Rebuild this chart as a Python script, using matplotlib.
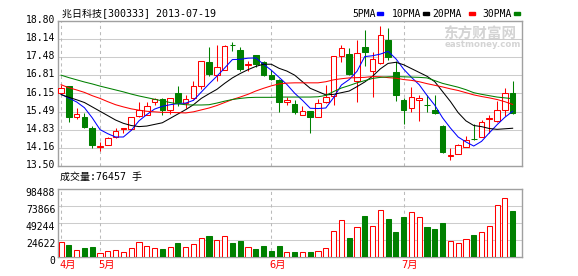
import numpy as np
import matplotlib
matplotlib.use("Agg")
import matplotlib.pyplot as plt
import matplotlib.transforms as mtransforms

plt.rcParams['font.family'] = ['DejaVu Sans Mono', 'Noto Sans CJK SC']

# daily bars, 2013-04 .. 2013-07-19
opens = [16.18, 16.41, 15.30, 15.29, 14.89, 14.21, 14.28, 14.56, 14.84, 14.85,
         15.34, 15.38, 15.84, 15.95, 15.54, 16.17, 15.80, 15.98, 16.41, 17.30,
         16.81, 17.02, 17.94, 17.73, 17.18, 17.55, 17.30, 16.83, 16.63, 15.83,
         15.77, 15.38, 15.50, 15.30, 15.83, 16.05, 17.51, 17.61, 16.59, 17.85,
         16.96, 17.27, 18.09, 16.95, 15.93, 15.62, 15.91, 15.74, 15.54, 14.98,
         13.87, 13.95, 14.20, 14.50, 14.56, 15.22, 15.13, 15.55, 16.16]
highs = [16.47, 16.43, 15.61, 15.43, 14.98, 14.38, 14.57, 14.88, 14.90, 15.29,
         15.83, 15.85, 15.99, 15.99, 15.98, 16.43, 16.10, 16.62, 17.35, 17.85,
         17.91, 17.94, 18.03, 17.84, 17.33, 17.57, 17.35, 17.00, 16.69, 16.01,
         15.91, 15.68, 15.51, 15.95, 16.46, 17.52, 17.94, 17.81, 18.11, 18.47,
         17.67, 18.61, 18.53, 17.33, 16.00, 16.38, 16.08, 16.11, 16.11, 14.99,
         14.16, 14.31, 14.61, 15.04, 15.18, 15.38, 15.86, 16.36, 16.62]
lows = [16.16, 15.12, 15.23, 14.89, 14.17, 14.04, 14.25, 14.52, 14.71, 14.83,
        15.29, 15.35, 15.72, 15.35, 15.40, 15.70, 15.63, 15.95, 16.33, 16.78,
        16.62, 17.00, 17.69, 16.99, 16.99, 17.11, 16.80, 16.66, 15.49, 15.74,
        15.41, 15.37, 14.71, 15.28, 15.79, 15.72, 17.29, 16.84, 15.83, 17.14,
        16.04, 17.24, 17.39, 15.87, 15.03, 15.46, 15.13, 15.46, 15.41, 13.99,
        13.71, 13.93, 14.18, 14.45, 14.55, 14.71, 15.11, 15.32, 15.39]
closes = [16.35, 15.30, 15.41, 14.91, 14.25, 14.23, 14.52, 14.79, 14.89, 15.28,
          15.54, 15.68, 15.94, 15.56, 15.97, 15.85, 15.95, 16.41, 17.33, 16.88,
          17.11, 17.87, 17.91, 17.06, 17.24, 17.24, 16.83, 16.68, 15.83, 15.91,
          15.46, 15.50, 15.30, 15.79, 16.01, 17.51, 17.80, 16.86, 17.63, 17.68,
          17.40, 18.28, 17.47, 16.11, 15.54, 16.04, 15.97, 15.72, 15.43, 14.01,
          13.92, 14.27, 14.44, 14.48, 15.12, 15.26, 15.54, 16.18, 15.44]
volumes = [21250, 17900, 10600, 13500, 15000, 6300, 9200, 10600, 7700, 13000,
           21700, 16400, 13000, 12000, 14500, 20800, 14500, 18800, 27500, 30900,
           24600, 30400, 20800, 23700, 14500, 12000, 16400, 9200, 16400, 7700,
           7700, 7200, 7700, 8700, 13000, 37700, 53600, 28000, 43500, 59900,
           44900, 68100, 55500, 36700, 58400, 65200, 58000, 44000, 41000, 49700,
           23200, 20300, 26100, 32400, 36200, 44900, 75300, 85500, 67100]

ma5 = [16.12, 15.98, 15.84, 15.63, 15.26, 14.83, 14.68, 14.56, 14.56, 14.80,
       15.15, 15.38, 15.58, 15.68, 15.74, 15.78, 15.80, 15.90, 16.20, 16.50,
       16.78, 17.08, 17.39, 17.40, 17.44, 17.45, 17.22, 17.00, 16.74, 16.48,
       16.16, 15.90, 15.61, 15.60, 15.62, 16.00, 16.46, 16.66, 16.96, 17.50,
       17.53, 17.59, 17.69, 17.42, 17.04, 16.74, 16.47, 16.08, 15.72, 15.26,
       14.89, 14.56, 14.38, 14.23, 14.40, 14.71, 15.01, 15.28, 15.50]
ma10 = [16.11, 16.01, 15.92, 15.82, 15.66, 15.50, 15.34, 15.18, 15.06, 14.98,
        14.94, 14.96, 15.02, 15.08, 15.24, 15.40, 15.56, 15.74, 15.97, 16.14,
        16.30, 16.52, 16.72, 16.88, 17.02, 17.14, 17.22, 17.22, 17.07, 16.97,
        16.82, 16.58, 16.34, 16.22, 16.10, 16.12, 16.18, 16.24, 16.40, 16.57,
        16.78, 17.05, 17.25, 17.29, 17.20, 17.06, 16.92, 16.78, 16.58, 16.22,
        15.86, 15.45, 15.15, 14.98, 14.94, 14.87, 14.84, 14.86, 14.88]
ma20 = [16.47, 16.36, 16.28, 16.19, 16.07, 15.97, 15.85, 15.74, 15.66, 15.59,
        15.54, 15.50, 15.48, 15.46, 15.46, 15.45, 15.44, 15.48, 15.55, 15.62,
        15.71, 15.82, 15.93, 16.02, 16.12, 16.24, 16.34, 16.43, 16.50, 16.53,
        16.54, 16.54, 16.54, 16.54, 16.58, 16.65, 16.69, 16.72, 16.73, 16.74,
        16.77, 16.76, 16.73, 16.71, 16.66, 16.63, 16.58, 16.51, 16.45, 16.39,
        16.32, 16.26, 16.18, 16.10, 16.04, 15.99, 15.93, 15.85, 15.75]
ma30 = [16.82, 16.73, 16.65, 16.57, 16.50, 16.42, 16.35, 16.28, 16.21, 16.13,
        16.06, 16.00, 15.94, 15.88, 15.82, 15.77, 15.74, 15.73, 15.73, 15.74,
        15.80, 15.87, 15.93, 15.97, 16.00, 16.01, 16.01, 16.01, 16.02, 16.02,
        16.02, 16.02, 16.02, 16.03, 16.08, 16.22, 16.35, 16.44, 16.54, 16.62,
        16.70, 16.74, 16.76, 16.77, 16.76, 16.75, 16.74, 16.72, 16.62, 16.52,
        16.45, 16.38, 16.29, 16.18, 16.12, 16.07, 16.02, 15.99, 15.96]

price_ticks = [13.50, 14.16, 14.83, 15.49, 16.15, 16.81, 17.48, 18.14, 18.80]
vol_ticks = [0, 24622, 49244, 73866, 98488]
month_idx = [0, 5, 27, 44]
month_labels = ["4月", "5月", "6月", "7月"]

RED = "#FF0000"
GREEN = "#008000"
BORDER = "#A0A0A0"
GRID = "#CCCCCC"

fig = plt.figure(figsize=(5.78, 2.76), dpi=100)
W, H = 578.0, 276.0
ax = fig.add_axes([58 / W, 1 - 166 / H, 464 / W, 145 / H])
axv = fig.add_axes([58 / W, 1 - 257 / H, 464 / W, 68 / H])

x = np.arange(len(closes))
o = np.array(opens)
c = np.array(closes)
up = c >= o
colors = np.where(up, RED, GREEN)
lw = 0.75

# price panel: wicks, then bodies on top
ax.vlines(x, lows, highs, colors=colors, lw=lw, zorder=3)
body_bottom = np.minimum(o, c)
body_h = np.maximum(np.abs(c - o), 0.02)
ax.bar(x[up], body_h[up], bottom=body_bottom[up], width=0.72,
       facecolor="white", edgecolor=RED, lw=lw, zorder=4)
ax.bar(x[~up], body_h[~up], bottom=body_bottom[~up], width=0.72,
       facecolor=GREEN, edgecolor=GREEN, lw=lw, zorder=4)

ax.plot(x, ma5, color="#0000FF", lw=0.75, zorder=5)
ax.plot(x, ma10, color="black", lw=0.75, zorder=5)
ax.plot(x, ma20, color=RED, lw=0.75, zorder=5)
ax.plot(x, ma30, color=GREEN, lw=0.75, zorder=5)

ax.set_ylim(13.50, 18.80)
ax.set_yticks(price_ticks)
ax.set_yticklabels(["%.2f" % v for v in price_ticks])

# volume panel
vol = np.array(volumes)
axv.bar(x[up], vol[up], width=0.66, facecolor="white",
        edgecolor=RED, lw=lw, zorder=4)
axv.bar(x[~up], vol[~up], width=0.66, facecolor=GREEN,
        edgecolor=GREEN, lw=lw, zorder=4)
axv.set_ylim(0, 98488)
axv.set_yticks(vol_ticks)
axv.set_yticklabels([str(v) for v in vol_ticks])

for a in (ax, axv):
    a.set_xlim(-0.4, 59.2)
    for s in a.spines.values():
        s.set_color(BORDER)
        s.set_linewidth(1.0)
    a.yaxis.grid(True, color=GRID, lw=0.75)
    a.set_axisbelow(True)
    for m in month_idx:
        a.axvline(m, color="#BBBBBB", lw=0.75, ls=(0, (3, 3)), zorder=1)
    a.tick_params(length=0, labelsize=7, pad=2)

# labels sit a little off the grid lines in the original
up2 = mtransforms.ScaledTranslation(0, 2 / 100, fig.dpi_scale_trans)
for lab in ax.get_yticklabels():
    lab.set_transform(lab.get_transform() + up2)
down3 = mtransforms.ScaledTranslation(0, -3 / 100, fig.dpi_scale_trans)
for lab in axv.get_yticklabels():
    lab.set_transform(lab.get_transform() + down3)

ax.set_xticks([])
axv.set_xticks(month_idx)
axv.set_xticklabels(month_labels, color=RED, fontsize=7.5, ha="left")
shift = mtransforms.ScaledTranslation(-2 / 100, 0, fig.dpi_scale_trans)
for lab in axv.get_xticklabels():
    lab.set_transform(lab.get_transform() + shift)

# header texts
fig.text(62 / W, 1 - 13.5 / H, "兆日科技[300333] 2013-07-19", fontsize=7.2,
         va="center", ha="left")
fig.text(60 / W, 1 - 177 / H, "成交量:76457 手", fontsize=7.2,
         va="center", ha="left")

legend_items = [("5PMA", "#0000FF", 352, 377), ("10PMA", "black", 392, 423),
                ("20PMA", RED, 432, 469), ("30PMA", GREEN, 482, 514)]
for name, col, tx, mx in legend_items:
    fig.text(tx / W, 1 - 13.7 / H, name, fontsize=7, va="center", ha="left")
    fig.patches.append(plt.Rectangle((mx / W, 1 - 15 / H), 5.5 / W, 2.6 / H,
                                     transform=fig.transFigure, color=col))

# watermark
fig.text(443 / W, 1 - 33.5 / H, "东方财富网", fontsize=10.5, color="#D4D4D4",
         va="center", ha="left", fontweight="bold", family="Noto Sans CJK SC")
fig.text(445 / W, 1 - 44.5 / H, "eastmoney.com", fontsize=6.2, color="#D4D4D4",
         va="center", ha="left", fontweight="bold", family="DejaVu Sans")

fig.savefig("out.png", dpi=100)
